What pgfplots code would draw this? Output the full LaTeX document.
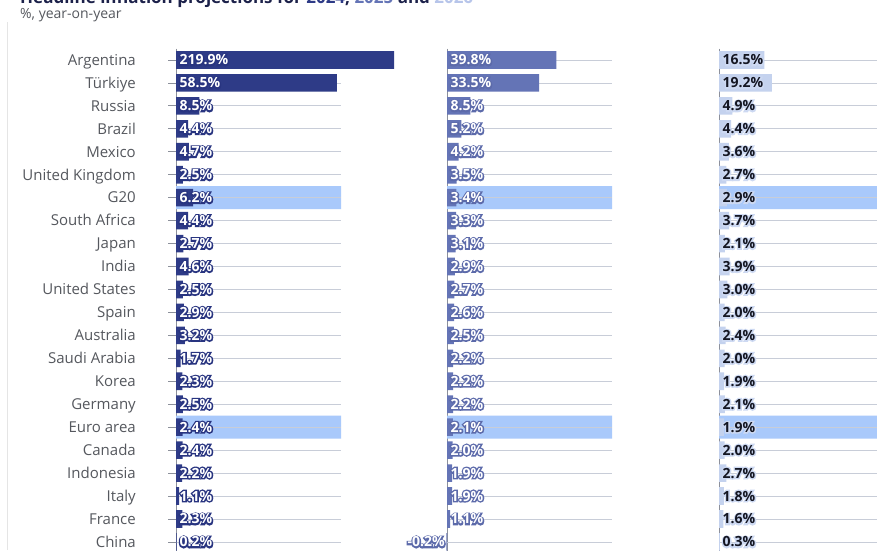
\documentclass[border=0pt]{standalone}
\usepackage{fontspec}
\setmainfont{Open Sans}
\newfontfamily\halofont{Open Sans}[UprightFeatures={FakeBold=20}, BoldFeatures={FakeBold=20}]
\usepackage{pgfplots}
\usepackage{pgfplotstable}
\pgfplotsset{compat=1.18}
\definecolor{c24}{RGB}{46,59,135}
\definecolor{c25}{RGB}{100,116,182}
\definecolor{c26}{RGB}{196,210,238}
\definecolor{c26t}{RGB}{183,197,234}
\definecolor{hl}{RGB}{169,201,251}
\definecolor{gridc}{RGB}{200,205,216}
\definecolor{lab}{RGB}{85,88,94}
\definecolor{axc}{RGB}{140,144,155}
\definecolor{titc}{RGB}{28,33,74}
\definecolor{halo24}{RGB}{40,52,128}
\definecolor{halo25}{RGB}{92,106,170}
\definecolor{halo26}{RGB}{205,217,242}
\definecolor{txt26}{RGB}{20,22,34}

\newcommand\halo[3]{\makebox[0pt][l]{\halofont\color{#1}#3}{\color{#2}#3}}

\pgfplotstableread{
idx v24 v25 v26
0 219.9 39.8 16.5
1 58.5 33.5 19.2
2 8.5 8.5 4.9
3 4.4 5.2 4.4
4 4.7 4.2 3.6
5 2.5 3.5 2.7
6 6.2 3.4 2.9
7 4.4 3.3 3.7
8 2.7 3.1 2.1
9 4.6 2.9 3.9
10 2.5 2.7 3.0
11 2.9 2.6 2.0
12 3.2 2.5 2.4
13 1.7 2.2 2.0
14 2.3 2.2 1.9
15 2.5 2.2 2.1
16 2.4 2.1 1.9
17 2.4 2.0 2.0
18 2.2 1.9 2.7
19 1.1 1.9 1.8
20 2.3 1.1 1.6
21 0.2 -0.2 0.3
}\data

\pgfplotsset{
 panel/.style={
  scale only axis, width=165pt, height=504.9pt,
  anchor=north west,
  xmin=0, xmax=60, ymin=-0.5, ymax=21.5, y dir=reverse,
  axis x line=none, axis y line*=left,
  y axis line style={draw=axc, line width=0.8pt},
  clip=false, ytick=\empty,
 },
 bars/.style={xbar, bar shift=0pt, bar width=17.6pt, draw=none, fill=#1, forget plot},
 band/.style={xbar, bar shift=0pt, bar width=22.95pt, draw=none, fill=hl, forget plot},
 gridp/.style={xcomb, draw=gridc, line width=0.8pt, mark=none, forget plot},
 labs/.style 2 args={draw=none, mark=none, forget plot, point meta=explicit symbolic,
   nodes near coords={\halo{#1}{#2}{\pgfplotspointmeta\%}},
   every node near coord/.append style={anchor=base west, inner sep=0pt, xshift=3.5pt, yshift=-5pt,
     font=\bfseries\fontsize{14}{16}\selectfont}},
}

\begin{document}
\begin{tikzpicture}
\useasboundingbox (0,0) rectangle (877pt,550pt);
\clip (0,0) rectangle (877pt,550pt);
\fill[white] (0,0) rectangle (877pt,550pt);
\draw[black!10, line width=1pt] (7.5pt,0) -- (7.5pt,528pt);
\node[anchor=base west, inner sep=0pt, font=\bfseries\fontsize{17}{20}\selectfont, text=titc]
  at (20pt,546pt) {Headline inflation projections for \textcolor{c24}{2024}, \textcolor{c25}{2025} and \textcolor{c26t}{2026}};
\node[anchor=base west, inner sep=0pt, font=\fontsize{14}{16}\selectfont, text=lab]
  at (20pt,531pt) {\%, year-on-year};

% 2024
\begin{axis}[panel, at={(176pt,501.5pt)},
  ytick={0,...,21},
  yticklabels={Argentina,Türkiye,Russia,Brazil,Mexico,United Kingdom,G20,South Africa,Japan,India,United States,Spain,Australia,Saudi Arabia,Korea,Germany,Euro area,Canada,Indonesia,Italy,France,China},
  tick align=outside, major tick length=8pt, ytick pos=left,
  ytick style={draw=axc, line width=0.8pt},
  y tick label style={font=\fontsize{15}{18}\selectfont, text=lab, anchor=base east, inner sep=0pt, xshift=-32pt, yshift=-5.3pt},
]
\addplot[band] coordinates {(60,6) (60,16)};
\addplot[gridp] table[x expr=60, y=idx]{\data};
\addplot[bars=c24, restrict x to domain*=0:79.3] table[x=v24, y=idx]{\data};
\addplot[labs={halo24}{white}] table[x expr=0, y=idx, meta=v24]{\data};
\end{axis}

% 2025
\begin{axis}[panel, at={(447pt,501.5pt)}]
\addplot[band] coordinates {(60,6) (60,16)};
\addplot[gridp] table[x expr=60, y=idx]{\data};
\addplot[bars=c25] table[x=v25, y=idx]{\data};
\addplot[labs={halo25}{white}, restrict y to domain=0:20] table[x expr=0, y=idx, meta=v25]{\data};
\addplot[labs={halo25}{white}, every node near coord/.append style={anchor=base east, xshift=-5.5pt}] coordinates {(0,21) [-0.2]};
\end{axis}

% 2026
\begin{axis}[panel, at={(719pt,501.5pt)}]
\addplot[band] coordinates {(60,6) (60,16)};
\addplot[gridp] table[x expr=60, y=idx]{\data};
\addplot[bars=c26] table[x=v26, y=idx]{\data};
\addplot[labs={halo26}{txt26}] table[x expr=0, y=idx, meta=v26]{\data};
\end{axis}
\end{tikzpicture}
\end{document}
